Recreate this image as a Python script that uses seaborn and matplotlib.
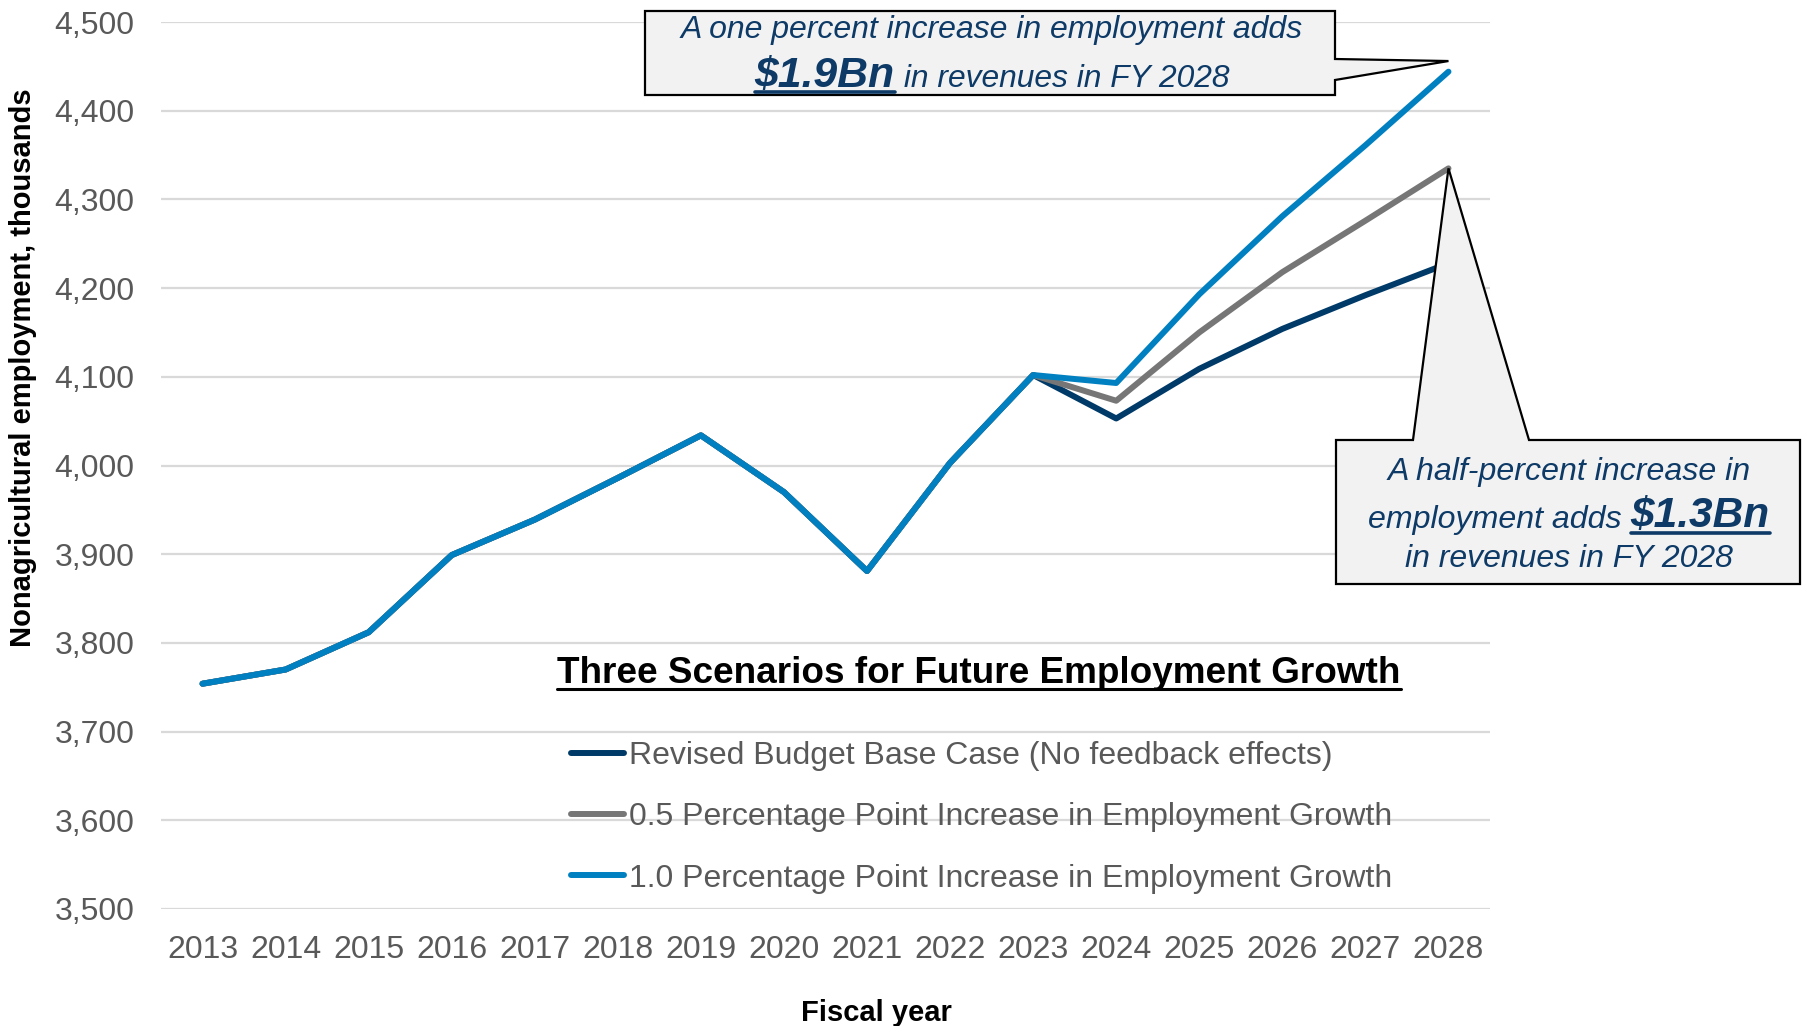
import matplotlib
matplotlib.use("Agg")
import matplotlib.pyplot as plt
from matplotlib.patches import Polygon
from matplotlib.lines import Line2D
from matplotlib.ticker import StrMethodFormatter
import seaborn as sns
import pandas as pd

# ---------------- data ----------------
years = list(range(2013, 2029))
base_case = [3754, 3770, 3812, 3899, 3939, 3986, 4034, 3970, 3881, 4003, 4102,
             4053, 4109, 4154, 4192, 4228]
half_pt = [3754, 3770, 3812, 3899, 3939, 3986, 4034, 3970, 3881, 4003, 4102,
           4073, 4150, 4218, 4276, 4335]
one_pt = [3754, 3770, 3812, 3899, 3939, 3986, 4034, 3970, 3881, 4003, 4102,
          4093, 4193, 4281, 4361, 4444]
series_names = ["Revised Budget Base Case (No feedback effects)",
                "0.5 Percentage Point Increase in Employment Growth",
                "1.0 Percentage Point Increase in Employment Growth"]
y_ticks = [3500, 3600, 3700, 3800, 3900, 4000, 4100, 4200, 4300, 4400, 4500]
colors = ["#003A68", "#767676", "#0080C0"]
navy_text = "#0D3A66"

df = pd.concat([
    pd.DataFrame({"year": years, "value": vals, "scenario": name})
    for name, vals in zip(series_names, [base_case, half_pt, one_pt])
])

# ---------------- figure ----------------
W, H = 1802, 1026
sns.set_theme(style="white")
plt.rcParams["font.family"] = ["Liberation Sans", "DejaVu Sans"]

fig = plt.figure(figsize=(W / 100, H / 100), dpi=100)
ax = fig.add_axes([161 / W, 1 - 909 / H, (1490 - 161) / W, (909 - 22) / H])

sns.lineplot(data=df, x="year", y="value", hue="scenario", hue_order=series_names,
             palette=colors, linewidth=4.3, errorbar=None, legend=False, ax=ax,
             solid_capstyle="round")

ax.set_xlim(years[0] - 0.5, years[-1] + 0.5)
ax.set_ylim(y_ticks[0], y_ticks[-1])
ax.set_xticks(years)
ax.set_xticklabels([str(y) for y in years])
ax.set_yticks(y_ticks)
ax.yaxis.set_major_formatter(StrMethodFormatter("{x:,.0f}"))
ax.yaxis.grid(True, color="#D9D9D9", linewidth=1.6)
ax.xaxis.grid(False)
ax.set_axisbelow(True)
for s in ax.spines.values():
    s.set_visible(False)
ax.tick_params(axis="both", length=0, labelsize=23, labelcolor="#595959")
ax.tick_params(axis="y", pad=19)
ax.tick_params(axis="x", pad=19)
ax.set_xlabel("")
ax.set_ylabel("")

fig.text(23 / W, 1 - 368 / H, "Nonagricultural employment, thousands", rotation=90,
         ha="center", va="center", fontsize=21, fontweight="bold", color="black")
fig.text(876 / W, 1 - 1013 / H, "Fiscal year", ha="center", va="center",
         fontsize=21, fontweight="bold", color="black")

# ---------------- legend ----------------
handles = [Line2D([0], [0], color=c, linewidth=4.3, solid_capstyle="round") for c in colors]
leg = ax.legend(handles, series_names, loc="upper left",
                bbox_to_anchor=(571 / W, 1 - 741 / H), bbox_transform=fig.transFigure,
                frameon=False, fontsize=23, handlelength=1.66, handletextpad=0.16,
                labelspacing=0.98, borderpad=0, borderaxespad=0)
for t in leg.get_texts():
    t.set_color("#595959")

renderer = fig.canvas.get_renderer()

def px(x, y):
    return (x / W, 1 - y / H)

def underline_at(text_artist, y_px, lw, color):
    bb = text_artist.get_window_extent(renderer)
    fig.add_artist(Line2D([bb.x0 / W, bb.x1 / W], [1 - y_px / H, 1 - y_px / H],
                          color=color, linewidth=lw, transform=fig.transFigure, zorder=7))

title = fig.text(979 / W, 1 - 683 / H, "Three Scenarios for Future Employment Growth",
                 ha="center", va="baseline", fontsize=26.6, fontweight="bold", color="black")
underline_at(title, 689, 2.2, "black")

# ---------------- callouts ----------------
def data_to_fig_px(x, y):
    dx, dy = ax.transData.transform((x, y))
    return dx, H - dy  # pixels from top

tip1 = data_to_fig_px(years[-1], one_pt[-1] + 12)
tip2 = data_to_fig_px(years[-1], half_pt[-1])

poly1 = [(645, 11), (1335, 11), (1335, 59), tip1, (1335, 80), (1335, 95), (645, 95)]
poly2 = [(1336, 440), (1413, 440), tip2, (1529, 440), (1800, 440), (1800, 584), (1336, 584)]
for poly in (poly1, poly2):
    fig.add_artist(Polygon([px(*p) for p in poly], closed=True, facecolor="#F2F2F2",
                           edgecolor="black", linewidth=1.6, transform=fig.transFigure,
                           zorder=5))

def mixed_line(cx, y_base, parts):
    arts = []
    for txt, kw in parts:
        a = fig.text(0, 1 - y_base / H, txt, ha="left", va="baseline", color=navy_text,
                     fontstyle="italic", zorder=6, **kw)
        arts.append(a)
    widths = [a.get_window_extent(renderer).width for a in arts]
    x = cx - sum(widths) / 2
    for a, w in zip(arts, widths):
        a.set_x(x / W)
        x += w
    return arts

# callout 1
fig.text(992 / W, 1 - 38 / H, "A one percent increase in employment adds", ha="center",
         va="baseline", fontsize=23, fontstyle="italic", color=navy_text, zorder=6)
a1 = mixed_line(992, 87, [("$1.9Bn", dict(fontsize=30.8, fontweight="bold")),
                          (" in revenues in FY 2028", dict(fontsize=22.9))])
underline_at(a1[0], 92, 2.6, navy_text)

# callout 2
fig.text(1569 / W, 1 - 480 / H, "A half-percent increase in", ha="center",
         va="baseline", fontsize=23.1, fontstyle="italic", color=navy_text, zorder=6)
a2 = mixed_line(1569, 528, [("employment adds ", dict(fontsize=23.1)),
                            ("$1.3Bn", dict(fontsize=30.5, fontweight="bold"))])
underline_at(a2[1], 533, 2.6, navy_text)
fig.text(1569 / W, 1 - 567 / H, "in revenues in FY 2028", ha="center",
         va="baseline", fontsize=23, fontstyle="italic", color=navy_text, zorder=6)

fig.savefig("out.png", dpi=100)
